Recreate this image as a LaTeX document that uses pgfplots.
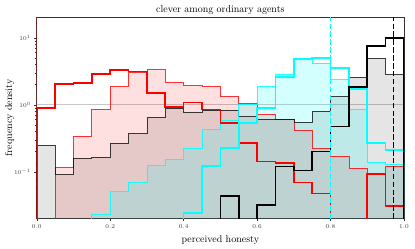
\documentclass[border=0pt]{standalone}
\usepackage{pgfplots}
\pgfplotsset{compat=1.18}
\usepackage{pgfplotstable}
\definecolor{cy}{RGB}{0,255,255}
\definecolor{rd}{RGB}{255,0,0}

% bins of width 0.05; R/r = red bold/thin, K/k = black bold/thin, C/c = cyan bold/thin
\pgfplotstableread{
x R r k K c C
0.00 1e-4 1e-4 1e-4 1e-4 1e-4 1e-4
0.00 0.89 1e-4 0.25 1e-4 1e-4 1e-4
0.05 2.06 0.117 0.09 1e-4 1e-4 1e-4
0.10 2.10 0.34 0.16 1e-4 1e-4 1e-4
0.15 2.9 0.86 0.166 1e-4 0.023 1e-4
0.20 3.33 1.86 0.27 1e-4 0.051 1e-4
0.25 3.15 3.0 0.37 1e-4 0.070 1e-4
0.30 1.5 3.33 0.65 1e-4 0.123 1e-4
0.35 0.93 2.15 0.89 1e-4 0.155 1e-4
0.40 1.08 1.92 0.78 1e-4 0.225 0.024
0.45 0.85 1.88 0.84 1e-4 0.43 0.123
0.50 0.53 1.33 0.84 0.043 0.59 0.226
0.55 0.27 1.05 0.67 1e-4 1.03 0.53
0.60 0.143 0.73 0.61 0.032 1.88 0.89
0.65 0.135 0.60 0.60 0.12 2.8 2.6
0.70 0.069 0.42 0.55 0.105 5.0 4.8
0.75 0.047 0.226 0.79 0.20 4.2 5.0
0.80 1e-4 0.17 1.33 0.47 2.36 3.5
0.85 1e-4 0.113 2.56 1.84 0.86 1.7
0.90 0.093 0.093 5.0 7.5 0.14 0.27
0.95 0.031 0.12 2.8 9.9 0.13 0.21
1.00 0.031 0.12 2.8 9.9 0.13 0.21
1.00 1e-4 1e-4 1e-4 1e-4 1e-4 1e-4
}\hist

\begin{document}
\begin{tikzpicture}
\begin{axis}[
  scale only axis, width=367.3pt, height=201.7pt,
  ymode=log, log origin=infty, xmin=0, xmax=1, ymin=0.0199, ymax=20.4,
  axis line style={black!80, line width=0.5pt},
  tick align=outside, xtick pos=left, ytick pos=left,
  major tick length=2.5pt, minor tick length=1.5pt,
  tick style={black!80, line width=0.4pt},
  xtick={0,0.2,0.4,0.6,0.8,1.0},
  xticklabel style={/pgf/number format/.cd, fixed, fixed zerofill, precision=1},
  ytick={0.1,1,10},
  ticklabel style={font=\fontsize{6}{7}\selectfont, text=black!75},
  title={clever among ordinary agents},
  title style={at={(axis description cs:0.5,1)}, anchor=base, yshift=-2pt},
  xlabel={perceived honesty}, ylabel={frequency density},
  ylabel shift=-7pt,
  hist/.style={const plot},
]
\addplot[black!22, line width=0.8pt] coordinates {(0,1) (1,1)};
\addplot[hist, draw=none, fill=rd, fill opacity=0.12] table[x=x,y=r]{\hist} \closedcycle;
\addplot[hist, draw=none, fill=black, fill opacity=0.1] table[x=x,y=k]{\hist} \closedcycle;
\addplot[hist, draw=none, fill=cy, fill opacity=0.17] table[x=x,y=c]{\hist} \closedcycle;
\addplot[hist, rd, line width=0.6pt, opacity=0.8] table[x=x,y=r]{\hist};
\addplot[hist, black, line width=0.6pt, opacity=0.75] table[x=x,y=k]{\hist};
\addplot[hist, cy, line width=0.6pt, opacity=0.85] table[x=x,y=c]{\hist};
\addplot[hist, rd, line width=1.6pt] table[x=x,y=R]{\hist};
\addplot[hist, cy, line width=1.6pt] table[x=x,y=C]{\hist};
\addplot[hist, black, line width=1.6pt] table[x=x,y=K]{\hist};
\addplot[rd, line width=1.5pt, dash pattern=on 5.5pt off 2.4pt] coordinates {(0,0.0199) (0,20.4)};
\addplot[cy, line width=1.5pt, dash pattern=on 5.5pt off 2.4pt] coordinates {(0.8,0.0199) (0.8,20.4)};
\addplot[black, line width=1.5pt, dash pattern=on 5.5pt off 2.4pt] coordinates {(0.971,0.0199) (0.971,20.4)};
\end{axis}
\pgfresetboundingbox
\path (-36.7pt,-30.3pt) rectangle (378.3pt,218.7pt);
\end{tikzpicture}
\end{document}
